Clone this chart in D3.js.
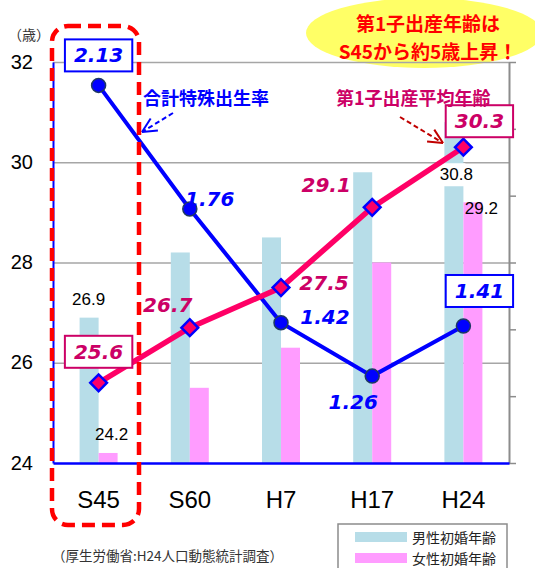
<!DOCTYPE html>
<html><head><meta charset="utf-8">
<script src="https://cdn.jsdelivr.net/npm/d3@7/dist/d3.min.js"></script>
<style>
body{margin:0;background:#fff;}
svg{display:block;}
.jp{font-family:"Noto Sans CJK JP","Noto Sans",sans-serif;}
.num{font-family:"DejaVu Sans",sans-serif;font-weight:bold;font-style:italic;}
.ax{font-family:"Liberation Sans",Arial,sans-serif;}
</style></head>
<body>
<svg id="c" width="535" height="568"></svg>
<script>
const categories = ["S45","S60","H7","H17","H24"];
const maleMarriageAge = [26.9, 28.2, 28.5, 29.8, 30.8];
const femaleMarriageAge = [24.2, 25.5, 26.3, 28.0, 29.2];
const firstBirthAge = [25.6, 26.7, 27.5, 29.1, 30.3];
const fertilityRate = [2.13, 1.76, 1.42, 1.26, 1.41];
const leftTicks = [24, 26, 28, 30, 32];
const rightTicks = [1.0, 1.2, 1.4, 1.6, 1.8, 2.0, 2.2];
const seriesNames = ["男性初婚年齢", "女性初婚年齢", "合計特殊出生率", "第1子出産平均年齢"];
const calloutLines = ["第1子出産年齢は", "S45から約5歳上昇！"];
const sourceNote = "（厚生労働省:H24人口動態統計調査）";
const unitLabel = "（歳）";

// layout
const L = 53, R = 509, T = 62, B = 463;
const svg = d3.select("#c");

const x = d3.scaleBand().domain(categories).range([L, R]).paddingInner(0).paddingOuter(0);
const yL = d3.scaleLinear().domain([24, 32]).range([B, T]);
const yR = d3.scaleLinear().domain([1.0, 2.2]).range([B, T]);
const cx = c => x(c) + x.bandwidth() / 2;
const barW = 19;

// yellow callout ellipse
svg.append("ellipse").attr("cx", 424).attr("cy", 33).attr("rx", 118).attr("ry", 35).attr("fill", "#ffff66");
svg.selectAll("text.callout").data(calloutLines).enter().append("text")
  .attr("class", "jp callout").attr("x", 428).attr("y", (d, i) => 22 + i * 28)
  .attr("text-anchor", "middle").attr("dominant-baseline", "central")
  .attr("font-size", 19).attr("font-weight", "bold").attr("fill", "#ff0000").text(d => d);

// gridlines
svg.append("g").attr("transform", `translate(${L},0)`)
  .call(d3.axisLeft(yL).tickValues(leftTicks.slice(1)).tickSize(-(R - L)).tickFormat(""))
  .call(g => g.select(".domain").remove())
  .call(g => g.selectAll("line").attr("stroke", "#a6a6a6").attr("stroke-width", 1.5));

// right axis
svg.append("g").attr("transform", `translate(${R},0)`)
  .call(d3.axisRight(yR).tickValues(rightTicks).tickSize(7).tickSizeOuter(0).tickFormat(""))
  .call(g => g.select(".domain").attr("stroke", "#8c8c8c").attr("stroke-width", 2))
  .call(g => g.selectAll("line").attr("stroke", "#8c8c8c").attr("stroke-width", 1.5));

// bars
const male = categories.map((c, i) => ({c, v: maleMarriageAge[i]}));
const female = categories.map((c, i) => ({c, v: femaleMarriageAge[i]}));
svg.append("g").selectAll("rect").data(male).enter().append("rect")
  .attr("x", d => cx(d.c) - barW).attr("width", barW)
  .attr("y", d => yL(d.v)).attr("height", d => B - yL(d.v)).attr("fill", "#b7dde8");
svg.append("g").selectAll("rect").data(female).enter().append("rect")
  .attr("x", d => cx(d.c)).attr("width", barW)
  .attr("y", d => yL(d.v)).attr("height", d => B - yL(d.v)).attr("fill", "#ff9cff");

// bar value labels (only S45 & H24)
const barLabelIdx = [0, 4];
const barLabelOff = {male: [[-10, -18], [-7, 52]], female: [[13, -18], [18, 6]]};
// white background behind the 30.8 label
svg.append("rect").attr("x", cx("H24") - barW - 1).attr("y", yL(30) + 1).attr("width", 22).attr("height", 23).attr("fill", "#fff");
barLabelIdx.forEach((i, k) => {
  svg.append("text").attr("class", "ax")
    .attr("x", cx(categories[i]) + barLabelOff.male[k][0])
    .attr("y", yL(maleMarriageAge[i]) + barLabelOff.male[k][1])
    .attr("text-anchor", "middle").attr("dominant-baseline", "central")
    .attr("font-size", 17).attr("fill", "#000").text(maleMarriageAge[i].toFixed(1));
  svg.append("text").attr("class", "ax")
    .attr("x", cx(categories[i]) + barLabelOff.female[k][0])
    .attr("y", yL(femaleMarriageAge[i]) + barLabelOff.female[k][1])
    .attr("text-anchor", "middle").attr("dominant-baseline", "central")
    .attr("font-size", 17).attr("fill", "#000").text(femaleMarriageAge[i].toFixed(1));
});

// left axis (labels + blue domain)
svg.append("g").attr("transform", `translate(${L},0)`)
  .call(d3.axisLeft(yL).tickValues(leftTicks).tickSize(0).tickPadding(20).tickSizeOuter(0))
  .call(g => g.select(".domain").attr("stroke", "#0000ff").attr("stroke-width", 2))
  .call(g => g.selectAll("text").attr("class", "ax").attr("font-size", 20).attr("fill", "#000").attr("dy", "0.3em"));

// bottom axis
svg.append("g").attr("transform", `translate(0,${B})`)
  .call(d3.axisBottom(x).tickSize(0).tickPadding(28).tickSizeOuter(0))
  .call(g => g.select(".domain").attr("stroke", "#0000ff").attr("stroke-width", 2.5))
  .call(g => g.selectAll("text").attr("class", "ax").attr("font-size", 24).attr("fill", "#000"));

// fertility line
const fert = categories.map((c, i) => ({c, v: fertilityRate[i]}));
svg.append("path").datum(fert)
  .attr("d", d3.line().x(d => cx(d.c)).y(d => yR(d.v)))
  .attr("fill", "none").attr("stroke", "#0000ff").attr("stroke-width", 4);

// first-birth age line
const age = categories.map((c, i) => ({c, v: firstBirthAge[i]}));
svg.append("path").datum(age)
  .attr("d", d3.line().x(d => cx(d.c)).y(d => yL(d.v)))
  .attr("fill", "none").attr("stroke", "#ff0066").attr("stroke-width", 5.5);

svg.append("g").selectAll("circle").data(fert).enter().append("circle")
  .attr("cx", d => cx(d.c)).attr("cy", d => yR(d.v)).attr("r", 7)
  .attr("fill", "#0000ff").attr("stroke", "#1f3864").attr("stroke-width", 1.5);
svg.append("g").selectAll("path").data(age).enter().append("path")
  .attr("d", d3.symbol().type(d3.symbolSquare).size(140))
  .attr("transform", d => `translate(${cx(d.c)},${yL(d.v)}) rotate(45)`)
  .attr("fill", "#ff0066").attr("stroke", "#0000ff").attr("stroke-width", 2.5);

// point labels
const fertOff = [[0, -30, true], [20, -10], [44, -6], [-19, 26], [16, -35, true]];
const ageOff = [[0, -31, true], [-22, -23], [43, -5], [-46, -22], [16, -26, true]];
function pointLabels(data, ys, off, color, fmt) {
  data.forEach((d, i) => {
    const px = cx(d.c) + off[i][0], py = ys(d.v) + off[i][1];
    const t = svg.append("text").attr("class", "num").attr("x", px).attr("y", py)
      .attr("text-anchor", "middle").attr("dominant-baseline", "central")
      .attr("font-size", 20).attr("fill", color).text(fmt(d.v));
    if (off[i][2]) {
      const bb = t.node().getBBox();
      svg.insert("rect", () => t.node())
        .attr("x", px - bb.width / 2 - 9).attr("y", py - 16).attr("width", bb.width + 18).attr("height", 32)
        .attr("fill", "#fff").attr("stroke", color).attr("stroke-width", 2);
    }
  });
}
pointLabels(fert, yR, fertOff, "#0000ff", v => v.toFixed(2));
pointLabels(age, yL, ageOff, "#cc0066", v => v.toFixed(1));

// series annotations with dashed arrows
svg.append("text").attr("class", "jp").attr("x", 143).attr("y", 97).attr("dominant-baseline", "central")
  .attr("font-size", 18).attr("font-weight", "bold").attr("fill", "#0000ff").text(seriesNames[2]);
svg.append("text").attr("class", "jp").attr("x", 336).attr("y", 97).attr("dominant-baseline", "central")
  .attr("font-size", 18).attr("font-weight", "bold").attr("fill", "#cc0066").text(seriesNames[3]);

function arrow(x1, y1, x2, y2, color) {
  svg.append("line").attr("x1", x1).attr("y1", y1).attr("x2", x2).attr("y2", y2)
    .attr("stroke", color).attr("stroke-width", 2).attr("stroke-dasharray", "5,3");
  const a = Math.atan2(y2 - y1, x2 - x1), h = 16, s = 0.45;
  [a + Math.PI - s, a + Math.PI + s].forEach(b => {
    svg.append("line").attr("x1", x2).attr("y1", y2)
      .attr("x2", x2 + h * Math.cos(b)).attr("y2", y2 + h * Math.sin(b))
      .attr("stroke", color).attr("stroke-width", 2);
  });
}
arrow(173, 113, 142, 132, "#0000ff");
arrow(400, 117, 443, 143, "#c00000");

// unit label
svg.append("text").attr("class", "jp").attr("x", 8).attr("y", 34).attr("dominant-baseline", "central")
  .attr("font-size", 14).attr("fill", "#333").text(unitLabel);

// red dashed highlight around S45
svg.append("rect").attr("x", 52).attr("y", 26).attr("width", 87).attr("height", 499).attr("rx", 16)
  .attr("fill", "none").attr("stroke", "#ff0000").attr("stroke-width", 4.5).attr("stroke-dasharray", "13,7");

// legend
svg.append("rect").attr("x", 338).attr("y", 524).attr("width", 169).attr("height", 60)
  .attr("fill", "#fff").attr("stroke", "#8c8c8c").attr("stroke-width", 1.5);
[["#b7dde8", seriesNames[0]], ["#ff9cff", seriesNames[1]]].forEach((e, i) => {
  svg.append("rect").attr("x", 355).attr("y", 532 + i * 21).attr("width", 52).attr("height", 10).attr("fill", e[0]);
  svg.append("text").attr("class", "jp").attr("x", 412).attr("y", 537 + i * 21).attr("dominant-baseline", "central")
    .attr("font-size", 14).attr("fill", "#222").text(e[1]);
});

// source
svg.append("text").attr("class", "jp").attr("x", 52).attr("y", 555).attr("dominant-baseline", "central")
  .attr("font-size", 13.5).attr("fill", "#333").text(sourceNote);
</script>
</body></html>
